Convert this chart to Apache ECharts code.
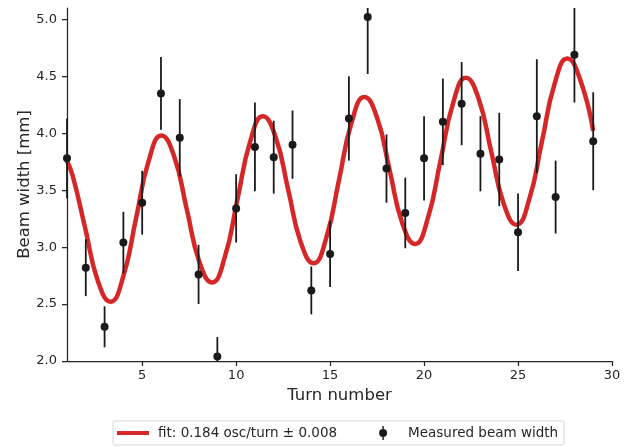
<!DOCTYPE html>
<html>
<head>
<meta charset="utf-8">
<script src="https://cdn.jsdelivr.net/npm/echarts@6/dist/echarts.min.js"></script>
<style>
  html, body { margin: 0; padding: 0; background: #fff; }
  #main { width: 628px; height: 447px; }
</style>
</head>
<body>
<div id="main"></div>
<script>
// measured beam width per turn, with error bars
var turns  = [1, 2, 3, 4, 5, 6, 7, 8, 9, 10, 11, 12, 13, 14, 15, 16, 17, 18, 19, 20, 21, 22, 23, 24, 25, 26, 27, 28, 29];
var widths = [3.78, 2.82, 2.30, 3.04, 3.39, 4.35, 3.96, 2.76, 2.04, 3.34, 3.88, 3.79, 3.90, 2.62, 2.94,
              4.13, 5.02, 3.69, 3.30, 3.78, 4.10, 4.26, 3.82, 3.77, 3.13, 4.15, 3.44, 4.69, 3.93];
var errors = [0.35, 0.25, 0.18, 0.27, 0.28, 0.32, 0.34, 0.26, 0.17, 0.30, 0.39, 0.32, 0.30, 0.21, 0.29,
              0.37, 0.50, 0.30, 0.31, 0.37, 0.38, 0.365, 0.33, 0.41, 0.34, 0.50, 0.32, 0.42, 0.43];

// fit curve (peaks, troughs and points in between)
var fitX = [1, 1.295, 1.97, 2.645, 3.32, 3.995, 4.67, 5.345, 6.02, 6.695, 7.37, 8.045, 8.72, 9.395,
            10.07, 10.745, 11.42, 12.095, 12.77, 13.445, 14.12, 14.795, 15.47, 16.145, 16.82, 17.495,
            18.17, 18.845, 19.52, 20.195, 20.87, 21.545, 22.22, 22.895, 23.57, 24.245, 24.92, 25.595,
            26.27, 26.945, 27.62, 28.295, 29];
var fitY = [3.757, 3.631, 3.166, 2.701, 2.520, 2.743, 3.250, 3.757, 3.980, 3.800, 3.335, 2.870, 2.689, 2.912,
            3.419, 3.926, 4.149, 3.969, 3.504, 3.039, 2.858, 3.081, 3.588, 4.095, 4.318, 4.138,
            3.673, 3.208, 3.027, 3.250, 3.757, 4.264, 4.488, 4.307, 3.842, 3.377, 3.196, 3.419,
            3.926, 4.433, 4.657, 4.476, 4.02];

var xTicks = [5, 10, 15, 20, 25, 30];
var yTicks = [2.0, 2.5, 3.0, 3.5, 4.0, 4.5, 5.0];

var fitName = 'fit: 0.184 osc/turn \u00b1 0.008';
var measName = 'Measured beam width';

var ink = '#262626';
var font = 'DejaVu Sans';

var fitData = fitX.map(function (x, i) { return [x, fitY[i]]; });
var measData = turns.map(function (t, i) { return [t, widths[i], errors[i]]; });

// legend icons: thick line for the fit, dot with bar for the measurements
var lineIcon = 'path://M0,0h32v4h-32z';
var errIcon = 'path://M4.3,0h1.4v3h-1.4z M4.3,11h1.4v3h-1.4z M5,3a4,4 0 1,0 0.001,0z';

var myChart = echarts.init(document.getElementById('main'));
var option = {
  animation: false,
  backgroundColor: '#fff',
  textStyle: { fontFamily: font, color: ink },
  grid: { left: 67, right: 16, top: 8, bottom: 86 },
  legend: {
    left: 113,
    top: 421,
    itemWidth: 32,
    itemHeight: 14,
    itemGap: 42,
    padding: [5, 6, 5, 4],
    borderColor: '#d6d6d6',
    borderWidth: 1,
    borderRadius: 2,
    backgroundColor: '#fff',
    textStyle: { fontSize: 13.5, color: ink, fontFamily: font, padding: [0, 0, 0, 4] },
    data: [
      { name: fitName, icon: lineIcon },
      { name: measName, icon: errIcon }
    ]
  },
  xAxis: {
    type: 'value',
    min: 1,
    max: 30,
    name: 'Turn number',
    nameLocation: 'middle',
    nameGap: 26,
    nameMoveOverlap: false,
    nameTextStyle: { fontSize: 16.5, color: ink, fontFamily: font },
    axisLine: { onZero: false, lineStyle: { color: ink, width: 1.25 } },
    axisTick: { show: true, length: 5, customValues: xTicks, lineStyle: { color: ink, width: 1.25 } },
    axisLabel: { customValues: xTicks, margin: 8, fontSize: 13, color: ink, fontFamily: font },
    splitLine: { show: false }
  },
  yAxis: {
    type: 'value',
    min: 2,
    max: 5.1,
    name: 'Beam width [mm]',
    nameLocation: 'middle',
    nameGap: 34,
    nameMoveOverlap: false,
    nameTextStyle: { fontSize: 16.5, color: ink, fontFamily: font },
    axisLine: { show: true, onZero: false, lineStyle: { color: ink, width: 1.25 } },
    axisTick: { show: true, length: 5, customValues: yTicks, lineStyle: { color: ink, width: 1.25 } },
    axisLabel: {
      customValues: yTicks, margin: 10, fontSize: 13, color: ink, fontFamily: font,
      formatter: function (v) { return v.toFixed(1); }
    },
    splitLine: { show: false }
  },
  series: [
    {
      name: fitName,
      type: 'line',
      data: fitData,
      smooth: 0.5,
      symbol: 'none',
      showSymbol: false,
      lineStyle: { color: '#d62728', width: 4.5 },
      itemStyle: { color: '#d62728' },
      z: 2
    },
    {
      name: measName,
      type: 'custom',
      data: measData,
      encode: { x: 0, y: 1 },
      itemStyle: { color: '#1a1a1a' },
      z: 3,
      renderItem: function (params, api) {
        var x = api.value(0), y = api.value(1), e = api.value(2);
        var cs = params.coordSys;
        var top = api.coord([x, y + e]);
        var bot = api.coord([x, y - e]);
        var c = api.coord([x, y]);
        var y1 = Math.max(top[1], cs.y);
        var y2 = Math.min(bot[1], cs.y + cs.height);
        return {
          type: 'group',
          children: [
            { type: 'line', shape: { x1: c[0], y1: y1, x2: c[0], y2: y2 },
              style: { stroke: '#1a1a1a', lineWidth: 1.8 } },
            { type: 'circle', shape: { cx: c[0], cy: c[1], r: 4 },
              style: { fill: '#1a1a1a' } }
          ]
        };
      }
    }
  ]
};
myChart.setOption(option);
</script>
</body>
</html>
